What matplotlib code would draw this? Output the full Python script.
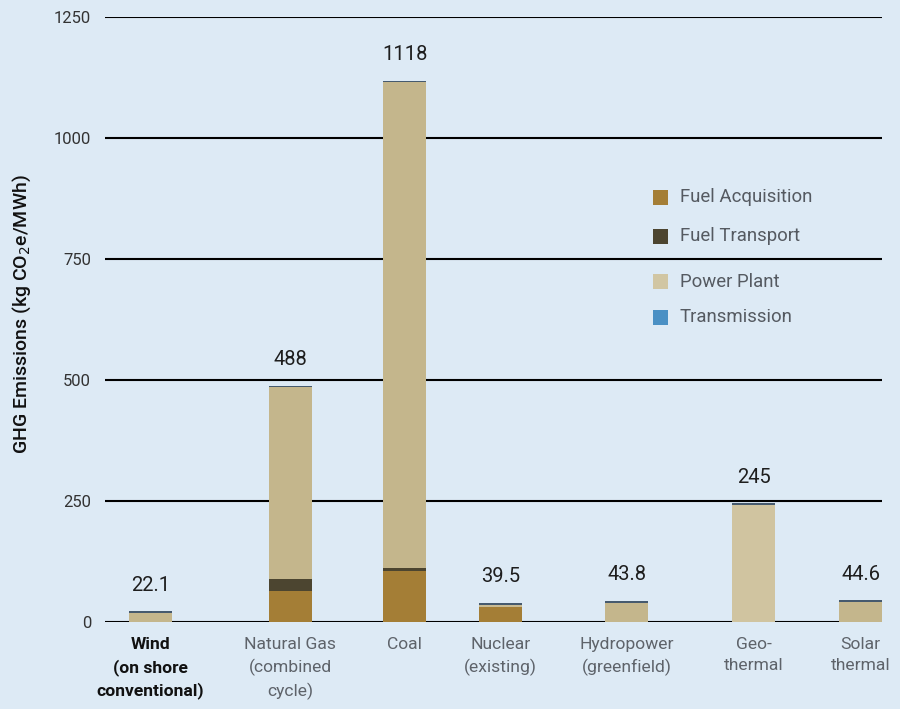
import matplotlib
matplotlib.use("Agg")
import matplotlib.pyplot as plt
from matplotlib.patches import Rectangle

# ---- data ----
categories = ["Wind\n(on shore\nconventional)", "Natural Gas\n(combined\ncycle)", "Coal",
              "Nuclear\n(existing)", "Hydropower\n(greenfield)", "Geo-\nthermal", "Solar\nthermal"]
fuel_acquisition = [0, 64, 105, 31.5, 0, 0, 0]
fuel_transport = [0, 25, 6, 0, 0, 0, 0]
power_plant = [18.1, 396, 1004, 4, 39.8, 241, 40.6]
transmission = [4, 3, 3, 4, 4, 4, 4]
totals = [22.1, 488, 1118, 39.5, 43.8, 245, 44.6]
total_labels = ["22.1", "488", "1118", "39.5", "43.8", "245", "44.6"]
yticks = [0, 250, 500, 750, 1000, 1250]
legend_labels = ["Fuel Acquisition", "Fuel Transport", "Power Plant", "Transmission"]

# ---- layout / style ----
W, H = 900, 709
xpos = [150.5, 290.5, 404.5, 500.5, 626.5, 753.5, 860.5]
bar_w = 43
bg = "#ddeaf5"
c_fa = "#a47e36"
c_ft = "#4c4530"
c_pp = ["#c4b68c", "#c4b68c", "#c4b68c", "#c9bb93", "#c4b68c", "#d0c4a0", "#c4b68c"]
c_cap = "#465a6e"
legend_colors = ["#a47e36", "#4c4530", "#d1c6a3", "#4a90c4"]

plt.rcParams["font.family"] = ["Roboto", "DejaVu Sans"]

fig = plt.figure(figsize=(W / 100, H / 100), dpi=100, facecolor=bg)
ax = fig.add_axes([105 / W, 1 - 622 / H, (882 - 105) / W, (622 - 17) / H])
ax.set_facecolor(bg)
ax.set_xlim(105, 882)
ax.set_ylim(0, 1250)

for y in yticks:
    ax.axhline(y, color="black", lw=1.5, zorder=1)

ax.bar(xpos, fuel_acquisition, bar_w, color=c_fa, zorder=2, linewidth=0)
bottom = list(fuel_acquisition)
ax.bar(xpos, fuel_transport, bar_w, bottom=bottom, color=c_ft, zorder=2, linewidth=0)
bottom = [a + b for a, b in zip(bottom, fuel_transport)]
ax.bar(xpos, power_plant, bar_w, bottom=bottom, color=c_pp, zorder=2, linewidth=0)
bottom = [a + b for a, b in zip(bottom, power_plant)]
ax.bar(xpos, transmission, bar_w, bottom=bottom, color=c_cap, zorder=2, linewidth=0)

for x, t, lab in zip(xpos, totals, total_labels):
    ax.annotate(lab, (x, t), xytext=(0, 12), textcoords="offset points",
                ha="center", va="bottom", fontsize=14.5, color="#1e1e1e")

for s in ax.spines.values():
    s.set_visible(False)

ax.set_yticks(yticks)
ax.set_yticklabels([str(v) for v in yticks], fontsize=12, color="#333333")
ax.tick_params(axis="y", length=0, pad=10)
ax.set_xticks(xpos)
ax.set_xticklabels(categories, fontsize=12.6, color="#5e636a", linespacing=1.5)
ax.tick_params(axis="x", length=0, pad=11)
lbls = ax.get_xticklabels()
lbls[0].set_color("#111111")
lbls[0].set_fontweight("bold")

fig.text(22 / W, 1 - 314 / H, "GHG Emissions (kg CO$_2$e/MWh)", rotation=90,
         ha="center", va="center", fontsize=14, fontweight="medium", color="#111111")

# legend
leg_y = [197, 236, 282, 317]
for lab, col, y in zip(legend_labels, legend_colors, leg_y):
    fig.patches.append(Rectangle((653 / W, 1 - (y + 7.5) / H), 15 / W, 15 / H,
                                 transform=fig.transFigure, facecolor=col, edgecolor="none"))
    fig.text(680 / W, 1 - y / H, lab, ha="left", va="center", fontsize=13.4,
             color="#555a61")

fig.savefig("out.png", dpi=100, facecolor=bg)
